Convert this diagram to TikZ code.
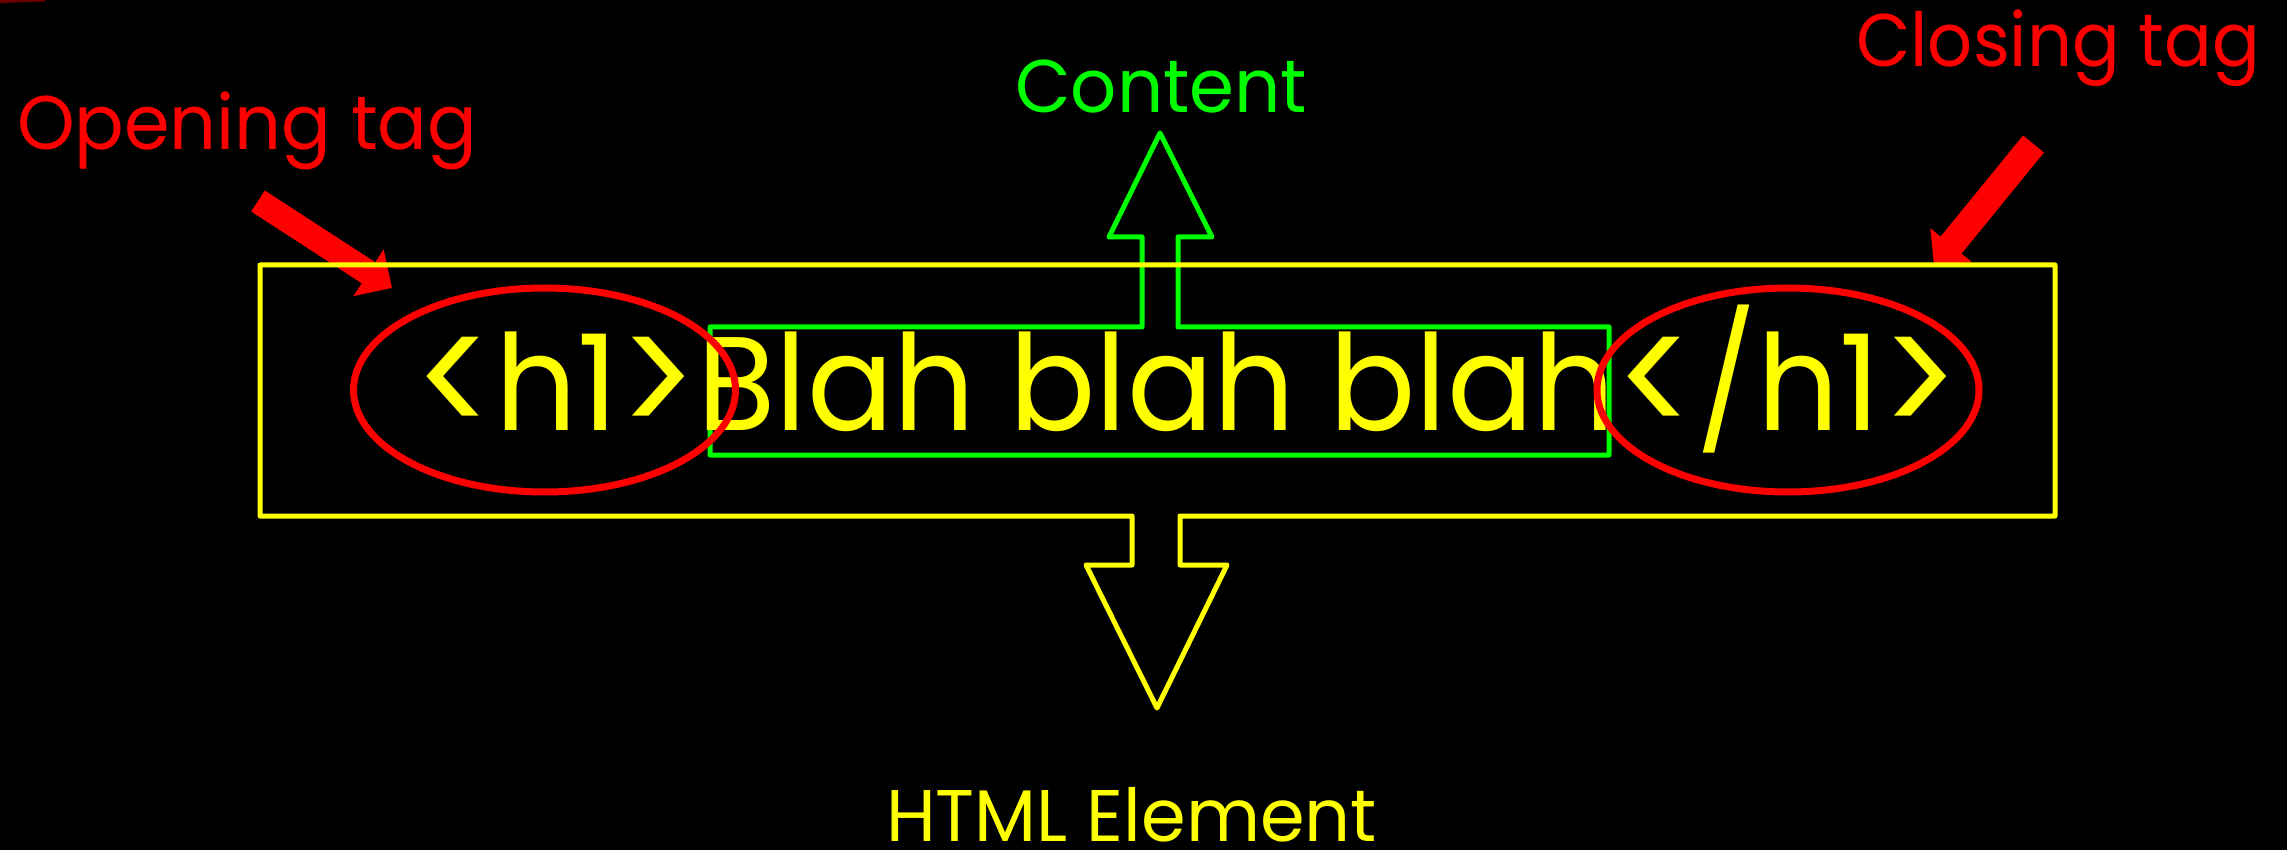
\documentclass[tikz,border=0pt]{standalone}
\usepackage{fontspec}
\usepackage{graphicx}
\setmainfont{Poppins}
\usetikzlibrary{arrows.meta,shapes.geometric}
\definecolor{hy}{RGB}{255,255,0}
\definecolor{hg}{RGB}{0,255,0}
\definecolor{hr}{RGB}{255,0,0}
\newcommand{\capfit}[3]{\resizebox{#1}{#2}{\raisebox{0pt}[\fontcharht\font`H][0pt]{#3}}}
\newcommand{\tagbra}[1]{\raisebox{-0.073em}{\scalebox{1.15}[1.29]{#1}}}
\tikzset{
  lbl/.style={inner sep=0pt, outer sep=0pt, anchor=base west},
  yline/.style={draw=hy, line width=5pt, line join=round, line cap=round},
  gline/.style={draw=hg, line width=5pt, line join=round, line cap=round},
  tagring/.style={ellipse, draw=hr, line width=7pt, inner sep=0pt, minimum width=382pt, minimum height=204pt},
  redarrow/.style={draw=hr, line cap=butt},
}
\begin{document}
\begin{tikzpicture}[x=1pt,y=-1pt]
\useasboundingbox (0,0) rectangle (2287,850);
\fill[black] (0,0) rectangle (2287,850);
% faint fragment at top-left corner
\coordinate (s1) at (0,1.5);
\coordinate (s2) at (45,0);
\draw[hr!70!black, line width=3pt, opacity=0.6] (s1) -- (s2);
% red pointer arrows
\coordinate (oatail) at (258,201);
\coordinate (oatip) at (392,288);
\coordinate (catail) at (2033.5,144);
\coordinate (catip) at (1934,266);
\draw[redarrow, line width=25pt, -{Triangle[width=54pt,length=28pt]}] (oatail) -- (oatip);
\draw[redarrow, line width=27pt, -{Triangle[width=52pt,length=27pt]}] (catail) -- (catip);
% green content box with up arrow
\draw[gline] (1142,327) -- (710,327) -- (710,455) -- (1609,455) -- (1609,327) -- (1178,327)
  -- (1178,237) -- (1212,237) -- (1160,133) -- (1109,237) -- (1142,237) -- cycle;
% yellow element box with down arrow
\draw[yline] (1132,516) -- (260,516) -- (260,265) -- (2055,265) -- (2055,516) -- (1180,516)
  -- (1180,565) -- (1227,565) -- (1157,708) -- (1086,565) -- (1132,565) -- cycle;
% texts
\node[lbl, text=hr] (opening) at (17,150) {\capfit{460pt}{53pt}{Opening tag}};
\node[lbl, text=hr] (closing) at (1856,67) {\capfit{404pt}{52pt}{Closing tag}};
\node[lbl, text=hg] (content) at (1015,113) {\capfit{292pt}{52pt}{Content}};
\node[lbl, text=hy] (element) at (886,841) {\capfit{491pt}{51pt}{HTML Element}};
\node[lbl, text=hy] (code) at (414,430) {\capfit{1544pt}{93pt}{\tagbra{<}h1\tagbra{>}Blah blah blah\tagbra{<}/h1\tagbra{>}}};
% red rings
\node[tagring] (opentag) at (544.5,390) {};
\node[tagring] (closetag) at (1788,390) {};
\end{tikzpicture}
\end{document}
